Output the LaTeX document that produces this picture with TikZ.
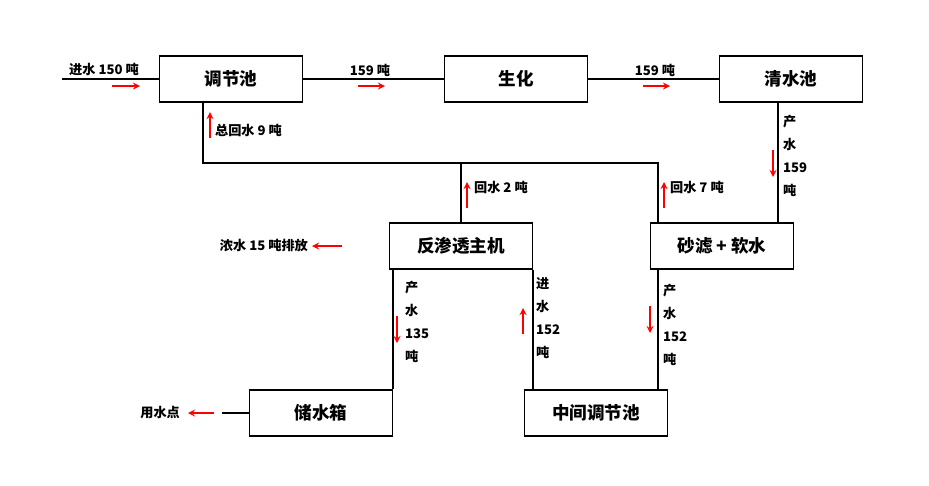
\documentclass[tikz,border=0pt]{standalone}
\usepackage{fontspec}
\setmainfont{Noto Sans CJK SC}
\usetikzlibrary{positioning}
\tikzset{
  box/.style={draw, thick, minimum width=2.86cm, minimum height=0.92cm, font=\fontsize{10}{12}\selectfont\bfseries},
  lbl/.style={font=\fontsize{7.5}{9}\selectfont\bfseries, inner sep=1pt},
  vlbl/.style={lbl, align=left, anchor=west, font=\fontsize{7.5}{13.2}\selectfont\bfseries},
  flow/.style={->, red, thick, >=stealth}
}
\begin{document}
\begin{tikzpicture}[x=0.02cm, y=-0.02cm]
    \useasboundingbox (0,0) rectangle (929,485);
    % Boxes
    \node[box] (tjc) at (231,79) {调节池};
    \node[box] (sh) at (516,79) {生化};
    \node[box] (qsc) at (791,79) {清水池};
    \node[box] (fst) at (461,246) {反渗透主机};
    \node[box] (slr) at (722,246) {砂滤 + 软水};
    \node[box] (csx) at (321,413) {储水箱};
    \node[box] (zjt) at (596,413) {中间调节池};

    % Main line
    \coordinate (in) at (62,79);
    \draw[thick] (in) -- (tjc.west);
    \node[lbl] at (104,70) {进水 150 吨};
    \draw[flow] (112,86) -- (140,86);
    \draw[thick] (tjc.east) -- (sh.west);
    \node[lbl] at (370,70) {159 吨};
    \draw[flow] (358,86) -- (385,86);
    \draw[thick] (sh.east) -- (qsc.west);
    \node[lbl] at (655,70) {159 吨};
    \draw[flow] (643,86) -- (670,86);

    % Return water
    \coordinate (r1) at (203,163);
    \coordinate (r2) at (461,163);
    \coordinate (r3) at (658,163);
    \draw[thick] (tjc.south -| r1) -- (r1) -- (r3) -- (r3 |- slr.north);
    \draw[thick] (fst.north) -- (r2);
    \draw[flow] (210,138) -- (210,112);
    \node[lbl, anchor=west] at (213,130) {总回水 9 吨};
    \draw[flow] (467,208) -- (467,182);
    \node[lbl, anchor=west] at (472,187) {回水 2 吨};
    \draw[flow] (664,208) -- (664,182);
    \node[lbl, anchor=west] at (668,187) {回水 7 吨};

    % Clear water to sand filter
    \draw[thick] (qsc.south -| 778,0) -- (slr.north -| 778,0);
    \draw[flow] (773,150) -- (773,177);
    \node[vlbl] at (781,156) {产\\水\\159\\吨};

    % Concentrate discharge
    \draw[flow] (342,246) -- (312,246);
    \node[lbl, anchor=east] at (310,246) {浓水 15 吨排放};

    % RO to storage and middle tank
    \draw[thick] (fst.south -| csx.east) -- (csx.north east);
    \draw[flow] (397,316) -- (397,343);
    \node[vlbl] at (403,322) {产\\水\\135\\吨};
    \draw[thick] (zjt.north -| fst.east) -- (fst.south east);
    \draw[flow] (523,334) -- (523,308);
    \node[vlbl] at (534,318) {进\\水\\152\\吨};
    \draw[thick] (slr.south -| 658,0) -- (zjt.north -| 658,0);
    \draw[flow] (650,306) -- (650,333);
    \node[vlbl] at (661,325) {产\\水\\152\\吨};

    % Use point
    \coordinate (up) at (222,413);
    \draw[thick] (csx.west) -- (up);
    \draw[flow] (214,413) -- (188,413);
    \node[lbl, anchor=east] at (182,413) {用水点};
\end{tikzpicture}
\end{document}
